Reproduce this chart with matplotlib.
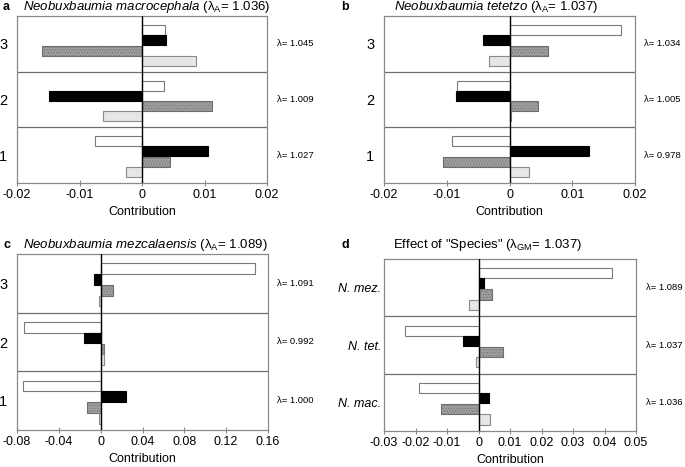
import matplotlib.pyplot as plt

plt.rcParams['font.family'] = ['Liberation Sans', 'DejaVu Sans']
plt.rcParams['axes.unicode_minus'] = False
plt.rcParams['mathtext.fontset'] = 'custom'
plt.rcParams['mathtext.rm'] = 'Liberation Sans'
plt.rcParams['mathtext.it'] = 'Liberation Sans:italic'
plt.rcParams['hatch.linewidth'] = 0.4

groups = [1, 2, 3]

# panel a - N. macrocephala (groups 1, 2, 3)
a_white = [-0.0075, 0.0035, 0.0036]
a_black = [0.0106, -0.0149, 0.0039]
a_gray = [0.0045, 0.0112, -0.0160]
a_light = [-0.0026, -0.0063, 0.0086]
a_lam = ['1.027', '1.009', '1.045']

# panel b - N. tetetzo
b_white = [-0.0092, -0.0084, 0.0177]
b_black = [0.0127, -0.0085, -0.0043]
b_gray = [-0.0106, 0.0045, 0.0061]
b_light = [0.0031, 0.0002, -0.0033]
b_lam = ['0.978', '1.005', '1.034']

# panel c - N. mezcalaensis
c_white = [-0.0743, -0.0730, 0.1476]
c_black = [0.0242, -0.0163, -0.0067]
c_gray = [-0.0134, 0.0030, 0.0115]
c_light = [-0.0016, 0.0030, -0.0013]
c_lam = ['1.000', '0.992', '1.091']

# panel d - effect of species (N. mac., N. tet., N. mez.)
d_white = [-0.0189, -0.0232, 0.0423]
d_black = [0.0033, -0.0048, 0.0018]
d_gray = [-0.0119, 0.0078, 0.0043]
d_light = [0.0037, -0.0007, -0.0029]
d_lam = ['1.036', '1.037', '1.089']
d_names = ['N. mac.', 'N. tet.', 'N. mez.']

offsets = [0.25, 0.07, -0.12, -0.30]
h = 0.18
styles = [
    dict(color='white', edgecolor='#7a7a7a'),
    dict(color='black', edgecolor='black'),
    dict(color='#9d9d9d', edgecolor='#6e6e6e', hatch='......'),
    dict(color='#e6e6e6', edgecolor='#8a8a8a'),
]

W, H = 685, 467
fig = plt.figure(figsize=(6.85, 4.67), dpi=100)


def box(l, r, t, b):
    return [l / W, 1 - b / H, (r - l) / W, (b - t) / H]


def panel(rect, series, lam, xlim, ticks, ticklabels, ylabels, lam_x, italic=False):
    ax = fig.add_axes(rect)
    for vals, off, st in zip(series, offsets, styles):
        ax.barh([g + off for g in groups], vals, height=h, linewidth=0.8, zorder=2, **st)
    ax.axvline(0, color='black', lw=1, zorder=3)
    for y in [1.5, 2.5]:
        ax.axhline(y, color='#6e6e6e', lw=0.9, zorder=1)
    ax.set_xlim(xlim)
    ax.set_ylim(0.5, 3.5)
    ax.set_xticks(ticks)
    ax.set_xticklabels(ticklabels, fontsize=9)
    ax.set_yticks(groups)
    if italic:
        ax.set_yticklabels(ylabels, fontsize=9, style='italic')
        ax.tick_params(axis='y', length=0, pad=2)
    else:
        ax.set_yticklabels(ylabels, fontsize=10.5)
        ax.tick_params(axis='y', length=0, pad=7)
    ax.tick_params(axis='x', direction='inout', length=4, color='#8a8a8a', pad=2)
    for s in ax.spines.values():
        s.set_color('#8a8a8a')
        s.set_linewidth(0.9)
    ax.set_xlabel('Contribution', fontsize=9, labelpad=4)
    for g, v in zip(groups, lam):
        ax.text(lam_x, g, 'λ= ' + v, transform=ax.get_yaxis_transform(),
                fontsize=6.8, va='center', ha='left')
    return ax


panel(box(17, 267, 16, 183), [a_white, a_black, a_gray, a_light], a_lam,
      (-0.02, 0.02), [-0.02, -0.01, 0, 0.01, 0.02],
      ['-0.02', '-0.01', '0', '0.01', '0.02'], ['1', '2', '3'], 1.04)
panel(box(384, 635, 16, 183), [b_white, b_black, b_gray, b_light], b_lam,
      (-0.02, 0.02), [-0.02, -0.01, 0, 0.01, 0.02],
      ['-0.02', '-0.01', '0', '0.01', '0.02'], ['1', '2', '3'], 1.036)
panel(box(17, 268, 254, 430), [c_white, c_black, c_gray, c_light], c_lam,
      (-0.08, 0.16), [-0.08, -0.04, 0, 0.04, 0.08, 0.12, 0.16],
      ['-0.08', '-0.04', '0', '0.04', '0.08', '0.12', '0.16'], ['1', '2', '3'], 1.036)
panel(box(384, 636, 259, 431), [d_white, d_black, d_gray, d_light], d_lam,
      (-0.03, 0.05), [-0.03, -0.02, -0.01, 0, 0.01, 0.02, 0.03, 0.04, 0.05],
      ['-0.03', '-0.02', '-0.01', '0', '0.01', '0.02', '0.03', '0.04', '0.05'],
      d_names, 1.04, italic=True)

titles = [
    (3, 23, 7, 'a', r'$\mathit{Neobuxbaumia\ macrocephala}$ (λ$_\mathrm{A}$= 1.036)'),
    (341, 394, 7, 'b', r'$\mathit{Neobuxbaumia\ tetetzo}$ (λ$_\mathrm{A}$= 1.037)'),
    (4, 23, 245, 'c', r'$\mathit{Neobuxbaumia\ mezcalaensis}$ (λ$_\mathrm{A}$= 1.089)'),
    (342, 393, 245, 'd', r'Effect of "Species" (λ$_\mathrm{GM}$= 1.037)'),
]
for lx, tx, ty, lab, txt in titles:
    fig.text(lx / W, 1 - ty / H, lab, fontsize=9, weight='bold', va='center')
    fig.text(tx / W, 1 - ty / H, txt, fontsize=9.5, va='center')

fig.savefig('out.png', dpi=100)
